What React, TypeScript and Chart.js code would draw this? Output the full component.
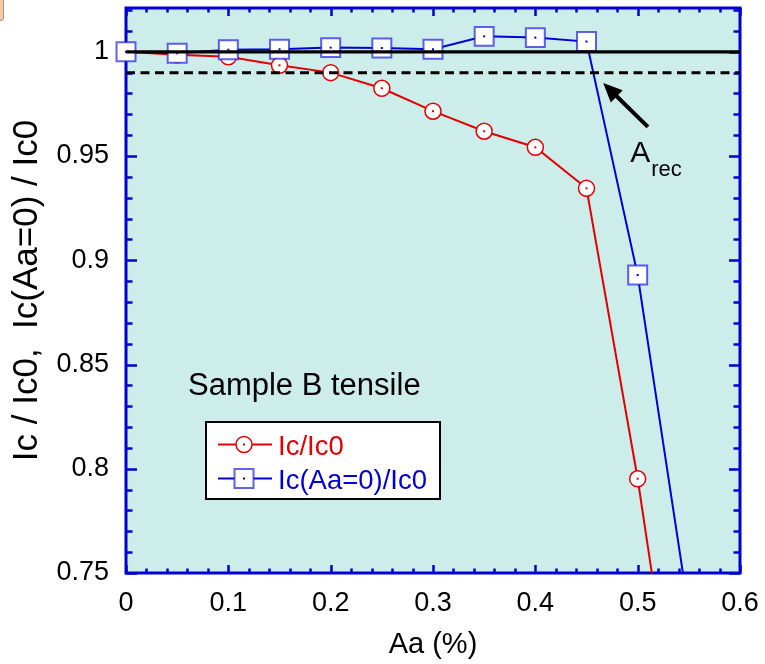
import React, { useEffect, useRef } from 'react';
import { Chart, registerables } from 'chart.js';

Chart.register(...registerables);

// ---- data ----
const strainValues = [0, 0.05, 0.1, 0.15, 0.2, 0.25, 0.3, 0.35, 0.4, 0.45, 0.5, 0.55];
const icRatio = [1.0, 0.9986, 0.9976, 0.9935, 0.99, 0.9825, 0.9715, 0.9619, 0.9542, 0.9345, 0.7952, 0.6316];
const icAa0Ratio = [1.0, 0.9993, 1.001, 1.0012, 1.002, 1.0018, 1.0012, 1.0074, 1.0068, 1.0049, 0.8929, 0.7313];
const referenceLevel = [1.0, 1.0];
const recoveryLevel = [0.99, 0.99];
const referenceSpan = [0, 0.6];
const seriesLabels = ['Ic/Ic0', 'Ic(Aa=0)/Ic0'];
const xTickValues = [0, 0.1, 0.2, 0.3, 0.4, 0.5, 0.6];
const xTickLabels = ['0', '0.1', '0.2', '0.3', '0.4', '0.5', '0.6'];
const yTickValues = [0.75, 0.8, 0.85, 0.9, 0.95, 1.0];
const yTickLabels = ['0.75', '0.8', '0.85', '0.9', '0.95', '1'];
const xRange = [0, 0.6];
const yRange = [0.75, 1.021];
const sampleText = 'Sample B tensile';
const arrowTail = [0.51, 0.964];
const arrowTip = [0.4663, 0.985];
const annotationPos = [0.4927, 0.947];

const FONT = "'Liberation Sans', Arial, Helvetica, sans-serif";
const RED = 'rgb(228,0,0)';
const BLUE = 'rgb(0,0,215)';
const SQUARE_EDGE = 'rgba(30,30,235,0.7)';
const AXIS = 'rgb(0,0,210)';
const PLOT_BG = 'rgb(204,237,234)';

const toPoints = (xs: number[], ys: number[]) => xs.map((x, i) => ({ x, y: ys[i] }));

const decorPlugin = {
  id: 'decor',
  beforeDraw(chart: any) {
    const { ctx, chartArea: a } = chart;
    ctx.save();
    ctx.fillStyle = PLOT_BG;
    ctx.fillRect(a.left, a.top, a.right - a.left, a.bottom - a.top);
    ctx.restore();
  },
  beforeDatasetsDraw(chart: any) {
    const { ctx, chartArea: a, scales } = chart;
    const x = scales.x;
    const y = scales.y;
    ctx.save();
    ctx.strokeStyle = AXIS;
    ctx.lineWidth = 2.5;
    ctx.beginPath();
    const nx = Math.round((x.max - x.min) / 0.02);
    for (let i = 0; i <= nx; i++) {
      const v = x.min + i * 0.02;
      const major = Math.abs(v / 0.1 - Math.round(v / 0.1)) < 1e-6;
      const len = major ? 8 : 4.5;
      const px = Math.round(x.getPixelForValue(v)) + 0.5;
      ctx.moveTo(px, a.bottom);
      ctx.lineTo(px, a.bottom - len);
      ctx.moveTo(px, a.top);
      ctx.lineTo(px, a.top + len);
    }
    for (let i = 0; ; i++) {
      const v = y.min + i * 0.01;
      if (v > y.max + 1e-9) break;
      const major = Math.abs(v / 0.05 - Math.round(v / 0.05)) < 1e-6;
      const len = major ? 11 : 6.5;
      const py = Math.round(y.getPixelForValue(v)) + 0.5;
      ctx.moveTo(a.left, py);
      ctx.lineTo(a.left + len, py);
      ctx.moveTo(a.right, py);
      ctx.lineTo(a.right - len, py);
    }
    ctx.stroke();
    ctx.lineWidth = 3;
    ctx.strokeRect(a.left, a.top, a.right - a.left, a.bottom - a.top);
    ctx.restore();
  },
  afterDatasetDraw(chart: any, args: any) {
    if (args.index > 1) return;
    const { ctx, chartArea: a } = chart;
    const color = args.index === 0 ? RED : BLUE;
    ctx.save();
    ctx.fillStyle = color;
    args.meta.data.forEach((pt: any) => {
      if (pt.x >= a.left - 12 && pt.x <= a.right && pt.y >= a.top && pt.y <= a.bottom) {
        ctx.fillRect(pt.x - 1, pt.y - 1, 2, 2);
      }
    });
    ctx.restore();
  },
  afterDraw(chart: any) {
    const { ctx, chartArea: a, scales } = chart;
    const x = scales.x;
    const y = scales.y;
    ctx.save();

    // Sample label
    ctx.fillStyle = '#000';
    ctx.font = `31px ${FONT}`;
    ctx.textBaseline = 'alphabetic';
    ctx.textAlign = 'left';
    ctx.fillText(sampleText, a.left + 62, a.top + 387);

    // Legend box
    const lx = a.left + 80;
    const ly = a.top + 414;
    const lw = 234;
    const lh = 77;
    ctx.fillStyle = '#fff';
    ctx.fillRect(lx, ly, lw, lh);
    ctx.strokeStyle = '#000';
    ctx.lineWidth = 2;
    ctx.strokeRect(lx, ly, lw, lh);

    const entries = [
      { label: seriesLabels[0], color: RED, y: ly + 22.5, baseline: ly + 33, shape: 'circle' },
      { label: seriesLabels[1], color: BLUE, y: ly + 56.5, baseline: ly + 67, shape: 'rect' },
    ];
    entries.forEach((e) => {
      ctx.strokeStyle = e.color;
      ctx.lineWidth = 2;
      ctx.beginPath();
      ctx.moveTo(lx + 12, e.y);
      ctx.lineTo(lx + 66, e.y);
      ctx.stroke();
      const cx = lx + 38;
      ctx.fillStyle = '#fff';
      if (e.shape === 'circle') {
        ctx.beginPath();
        ctx.arc(cx, e.y, 8, 0, Math.PI * 2);
        ctx.fill();
        ctx.lineWidth = 1.5;
        ctx.strokeStyle = e.color;
        ctx.stroke();
      } else {
        ctx.fillRect(cx - 9.5, e.y - 9.5, 19, 19);
        ctx.lineWidth = 2;
        ctx.strokeStyle = SQUARE_EDGE;
        ctx.strokeRect(cx - 9.5, e.y - 9.5, 19, 19);
      }
      ctx.fillStyle = e.color;
      ctx.fillRect(cx - 1, e.y - 1, 2, 2);
      ctx.font = `27.5px ${FONT}`;
      ctx.textAlign = 'left';
      ctx.textBaseline = 'alphabetic';
      ctx.fillText(e.label, lx + 72, e.baseline);
    });

    // Arrow
    const tx = x.getPixelForValue(arrowTail[0]);
    const ty = y.getPixelForValue(arrowTail[1]);
    const hx = x.getPixelForValue(arrowTip[0]);
    const hy = y.getPixelForValue(arrowTip[1]);
    const ang = Math.atan2(hy - ty, hx - tx);
    const headLen = 19;
    const headHalf = 8.5;
    const bx = hx - headLen * Math.cos(ang);
    const by = hy - headLen * Math.sin(ang);
    ctx.strokeStyle = '#000';
    ctx.fillStyle = '#000';
    ctx.lineWidth = 4;
    ctx.beginPath();
    ctx.moveTo(tx, ty);
    ctx.lineTo(bx + 3 * Math.cos(ang), by + 3 * Math.sin(ang));
    ctx.stroke();
    ctx.beginPath();
    ctx.moveTo(hx, hy);
    ctx.lineTo(bx + headHalf * Math.sin(ang), by - headHalf * Math.cos(ang));
    ctx.lineTo(bx - headHalf * Math.sin(ang), by + headHalf * Math.cos(ang));
    ctx.closePath();
    ctx.fill();

    // A_rec
    const ax = x.getPixelForValue(annotationPos[0]);
    const ay = y.getPixelForValue(annotationPos[1]);
    ctx.font = `30px ${FONT}`;
    ctx.textAlign = 'left';
    ctx.textBaseline = 'alphabetic';
    ctx.fillText('A', ax, ay);
    const aw = ctx.measureText('A').width;
    ctx.font = `22px ${FONT}`;
    ctx.fillText('rec', ax + aw + 1, ay + 14);

    ctx.restore();
  },
};

export default function App() {
  const canvasRef = useRef<HTMLCanvasElement | null>(null);

  useEffect(() => {
    const canvas = canvasRef.current;
    if (!canvas) return;
    const chart = new Chart(canvas, {
      type: 'line',
      data: {
        datasets: [
          {
            label: seriesLabels[0],
            data: toPoints(strainValues, icRatio),
            borderColor: RED,
            borderWidth: 2,
            pointStyle: 'circle',
            pointRadius: 8,
            pointBorderWidth: 1.5,
            pointBorderColor: RED,
            pointBackgroundColor: '#fff',
            tension: 0,
            order: 2,
            clip: { left: 14, top: 12, right: 12, bottom: 0 },
          } as any,
          {
            label: seriesLabels[1],
            data: toPoints(strainValues, icAa0Ratio),
            borderColor: BLUE,
            borderWidth: 2,
            pointStyle: 'rect',
            pointRadius: 13.4,
            pointBorderWidth: 2,
            pointBorderColor: SQUARE_EDGE,
            pointBackgroundColor: '#fff',
            tension: 0,
            order: 1,
            clip: { left: 14, top: 12, right: 12, bottom: 0 },
          } as any,
          {
            label: 'reference',
            data: toPoints(referenceSpan, referenceLevel),
            borderColor: '#000',
            borderWidth: 3.2,
            pointRadius: 0,
            order: 0,
            clip: { left: 3, top: 0, right: 0, bottom: 0 },
          } as any,
          {
            label: 'recovery',
            data: toPoints(referenceSpan, recoveryLevel),
            borderColor: '#000',
            borderWidth: 3,
            borderDash: [9, 5.5],
            pointRadius: 0,
            order: 0,
            clip: { left: 0, top: 0, right: 0, bottom: 0 },
          } as any,
        ],
      },
      options: {
        responsive: false,
        animation: false,
        events: [],
        layout: { autoPadding: false, padding: { left: 0, right: 25, top: 8, bottom: 0 } },
        plugins: {
          legend: { display: false },
          tooltip: { enabled: false },
        },
        scales: {
          x: {
            type: 'linear',
            min: xRange[0],
            max: xRange[1],
            grid: { display: false, drawTicks: false },
            border: { display: false },
            ticks: {
              color: '#000',
              font: { family: FONT, size: 27 },
              padding: 14,
              maxRotation: 0,
              autoSkip: false,
              callback: (v: any) => {
                const i = xTickValues.indexOf(Number(v));
                return i >= 0 ? xTickLabels[i] : '';
              },
            },
            afterBuildTicks: (s: any) => {
              s.ticks = xTickValues.map((value) => ({ value }));
            },
            afterFit: (s: any) => {
              s.height = 91;
              s.paddingLeft = 0;
              s.paddingRight = 0;
            },
            title: {
              display: true,
              text: 'Aa (%)',
              color: '#000',
              font: { family: FONT, size: 29 },
              padding: { top: 0, bottom: 2 },
            },
          },
          y: {
            type: 'linear',
            min: yRange[0],
            max: yRange[1],
            grid: { display: false, drawTicks: false },
            border: { display: false },
            ticks: {
              color: '#000',
              font: { family: FONT, size: 27 },
              padding: 17,
              autoSkip: false,
              callback: (v: any) => {
                const i = yTickValues.indexOf(Number(v));
                return i >= 0 ? yTickLabels[i] : '';
              },
            },
            afterBuildTicks: (s: any) => {
              s.ticks = yTickValues.map((value) => ({ value }));
            },
            afterFit: (s: any) => {
              s.width = 126;
              s.paddingTop = 0;
              s.paddingBottom = 0;
            },
            title: {
              display: true,
              text: 'Ic / Ic0,  Ic(Aa=0) / Ic0',
              color: '#000',
              font: { family: FONT, size: 35 },
              padding: { top: 6, bottom: 0 },
            },
          },
        },
      },
      plugins: [decorPlugin],
    } as any);
    return () => chart.destroy();
  }, []);

  return (
    <div style={{ position: 'fixed', left: 0, top: 0, width: 765, height: 664, background: '#fff', overflow: 'hidden' }}>
      <canvas ref={canvasRef} width={765} height={664} style={{ width: 765, height: 664, display: 'block' }} />
      <div
        style={{
          position: 'absolute',
          left: -10,
          top: -8,
          width: 12,
          height: 27,
          borderRadius: 3,
          border: '1px solid #9a9a9a',
          background: 'rgb(249,200,155)',
        }}
      />
    </div>
  );
}
